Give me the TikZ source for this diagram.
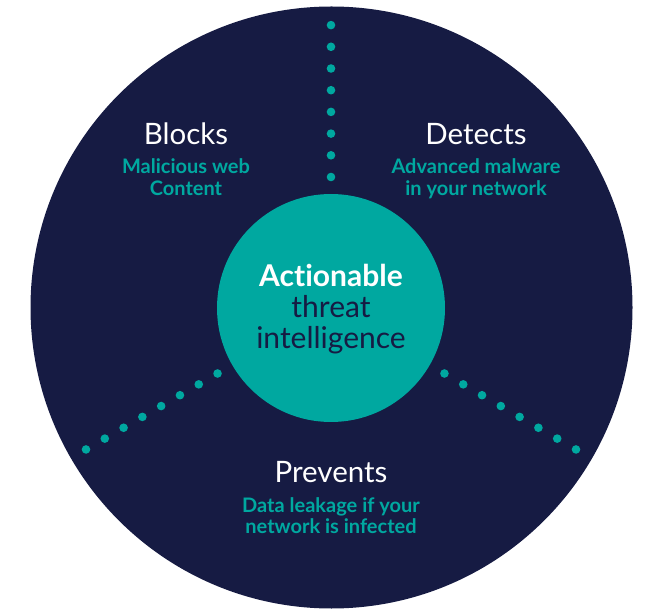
\documentclass[tikz,border=0pt]{standalone}
\usepackage{fontspec}
\setmainfont{Lato}[Ligatures={NoCommon,TeX}]
\usetikzlibrary{calc}
\definecolor{navy}{RGB}{22,27,67}
\definecolor{teal}{RGB}{0,168,160}
\begin{document}
\begin{tikzpicture}[x=1pt,y=-1pt,
  title/.style={text=white,font=\fontsize{29.5}{31}\selectfont,anchor=base,inner sep=0},
  sub/.style={text=teal,font=\fontsize{20}{23}\selectfont\bfseries,anchor=base,inner sep=0},
  centre/.style={font=\fontsize{30}{31}\selectfont,anchor=base,inner sep=0},
  dotfill/.style={fill=teal}]
\useasboundingbox (0,0) rectangle (648,609);
\node[circle,fill=navy,minimum size=602pt,inner sep=0] (outer) at (331.5,307.5) {};
\node[circle,fill=teal,minimum size=228pt,inner sep=0] (inner) at (331,308) {};
\coordinate (c) at (inner.center);
\foreach \ang in {270,150,30}{
  \foreach \i in {0,...,7}{
    \fill[dotfill] ($(c)+(\ang:{131+21.7*\i})$) circle (4.3);
  }
}
% centre text
\node[centre,text=white,font=\fontsize{30}{31}\selectfont\bfseries] (t1) at (331,287) {Actionable};
\node[centre,text=navy] (t2) at (331,318) {threat};
\node[centre,text=navy] (t3) at (331,349) {intelligence};
% blocks
\node[title] (blocks) at (186,145) {Blocks};
\node[sub] (b1) at (186,174) {Malicious web};
\node[sub] (b2) at (186,196) {Content};
% detects
\node[title] (detects) at (476,145) {Detects};
\node[sub] (d1) at (476,174) {Advanced malware};
\node[sub] (d2) at (476,196) {in your network};
% prevents
\node[title] (prevents) at (331,482) {Prevents};
\node[sub] (p1) at (331,512) {Data leakage if your};
\node[sub] (p2) at (331,533) {network is infected};
\end{tikzpicture}
\end{document}
